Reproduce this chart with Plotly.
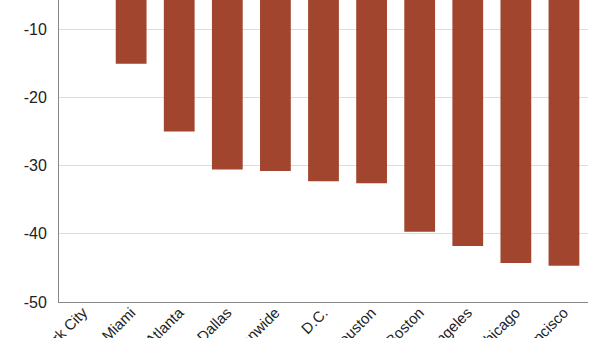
import plotly.graph_objects as go

cities = ["New York City", "Miami", "Atlanta", "Dallas", "Nationwide", "D.C.",
          "Houston", "Boston", "Los Angeles", "Chicago", "San Francisco"]
values = [-2.0, -15.1, -25.0, -30.6, -30.8, -32.3, -32.6, -39.7, -41.8, -44.3, -44.7]
y_ticks = [-50, -40, -30, -20, -10, 0]
y_tick_text = ["-50", "-40", "-30", "-20", "-10", "0"]

fig = go.Figure(go.Bar(x=cities, y=values, marker=dict(color="#a1452f", line=dict(width=0)),
                       width=0.64))

fig.update_layout(
    width=600, height=338,
    margin=dict(l=59, r=12, t=0, b=36),
    plot_bgcolor="white", paper_bgcolor="white",
    showlegend=False,
    font=dict(family="Liberation Sans, Arial, sans-serif", color="#222"),
)
fig.update_xaxes(tickangle=-45, tickfont=dict(size=15), automargin=False,
                 showline=True, linecolor="#888", linewidth=1, mirror=True,
                 ticks="", ticklabelstandoff=-5, showgrid=False)
fig.update_yaxes(range=[-50, -5.75], tickvals=y_ticks, ticktext=y_tick_text,
                 tickfont=dict(size=16),
                 automargin=False, showline=True, linecolor="#888", linewidth=1,
                 showgrid=True, gridcolor="#dcdcdc", gridwidth=1, ticks="",
                 ticklabelstandoff=8, zeroline=False)

fig.write_html("out.html")
